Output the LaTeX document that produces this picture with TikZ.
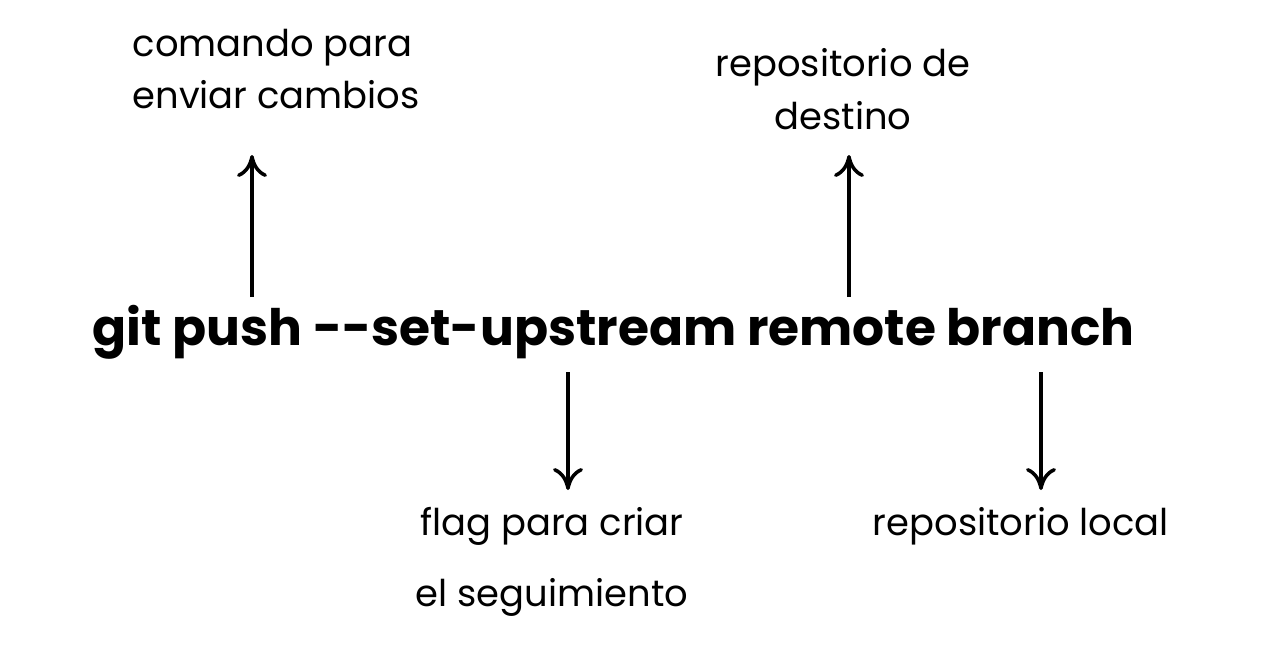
\documentclass[tikz,border=0pt]{standalone}
\usepackage{fontspec}
\setmainfont{Poppins}
\usetikzlibrary{positioning,arrows.meta}

\begin{document}
\begin{tikzpicture}[
        % --- STYLE ---
        cmdtext/.style={
            font=\fontsize{14.3}{18}\selectfont\bfseries,
            inner sep=0pt
        },
        note/.style={
            font=\fontsize{10.5}{15}\selectfont,
            inner sep=0pt
        },
        pointer/.style={
            -{To[length=2.2mm,width=3mm]},
            line width=1pt
        }
    ]
    \useasboundingbox (0,0) rectangle (12.86,6.6);

    % --- COMMAND ---
    \node[cmdtext, anchor=base west] (cmd) at (0.92,3.15)
        {git push -{}-set-upstream remote branch};

    % --- LABELS ---
    \node[note, anchor=north west, align=left] (cmdnote) at (1.32,6.32)
        {comando para\\enviar cambios};
    \node[note, anchor=north, align=center] (destnote) at (8.43,6.12)
        {repositorio de\\destino};
    \node[note, anchor=north, align=center,
        font=\fontsize{10.5}{20}\selectfont] (flagnote) at (5.52,1.53)
        {flag para criar\\el seguimiento};
    \node[note, anchor=north] (localnote) at (10.21,1.53)
        {repositorio local};

    % --- ARROWS ---
    \coordinate (pushpt) at (2.52,3.63);
    \coordinate (pushtip) at (2.52,5.05);
    \coordinate (remotept) at (8.49,3.63);
    \coordinate (remotetip) at (8.49,5.05);
    \coordinate (upspt) at (5.68,2.88);
    \coordinate (upstip) at (5.68,1.70);
    \coordinate (branchpt) at (10.41,2.88);
    \coordinate (branchtip) at (10.41,1.70);

    \draw[pointer] (pushpt) -- (pushtip);
    \draw[pointer] (remotept) -- (remotetip);
    \draw[pointer] (upspt) -- (upstip);
    \draw[pointer] (branchpt) -- (branchtip);

\end{tikzpicture}
\end{document}
